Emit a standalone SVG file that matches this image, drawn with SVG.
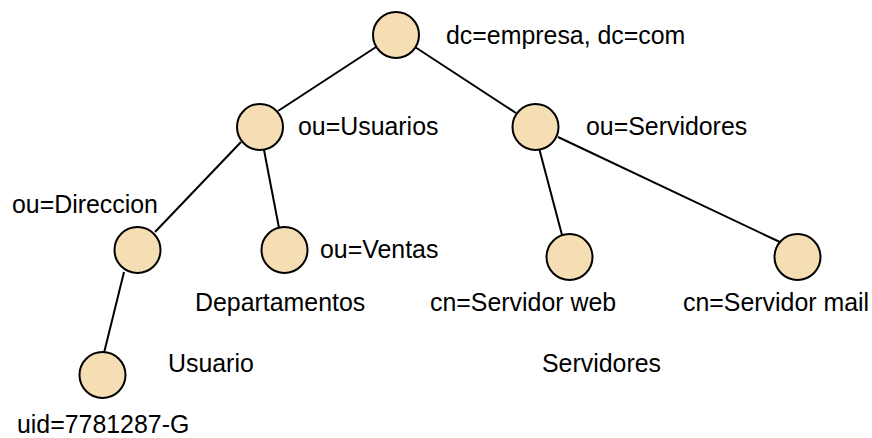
<svg xmlns="http://www.w3.org/2000/svg" width="872" height="438" viewBox="0 0 872 438">
  <style>
    .node { fill: #f5deb3; stroke: #000; stroke-width: 2; }
    .edge { stroke: #000; stroke-width: 2; fill: none; }
    .lbl { font-family: "Liberation Sans", Arial, sans-serif; font-size: 24.9px; fill: #000; }
  </style>
  <rect width="872" height="438" fill="#fff"/>
  <!-- connectors of the directory tree -->
  <g id="edges">
    <line class="edge" x1="376" y1="47" x2="278" y2="111"/>
    <line class="edge" x1="415" y1="47" x2="516" y2="113"/>
    <line class="edge" x1="241" y1="142" x2="155" y2="232"/>
    <line class="edge" x1="264" y1="150" x2="279" y2="228"/>
    <line class="edge" x1="124" y1="272" x2="104" y2="353"/>
    <line class="edge" x1="539" y1="148" x2="562" y2="235"/>
    <line class="edge" x1="558" y1="137" x2="782" y2="243"/>
  </g>
  <g id="root">
    <circle class="node" cx="396" cy="35" r="23"/>
    <text class="lbl" x="446" y="44">dc=empresa, dc=com</text>
  </g>
  <g id="usuarios">
    <circle class="node" cx="260" cy="127" r="23"/>
    <text class="lbl" x="298" y="135">ou=Usuarios</text>
  </g>
  <g id="servidores">
    <circle class="node" cx="535.5" cy="127" r="23"/>
    <text class="lbl" x="586" y="135">ou=Servidores</text>
  </g>
  <g id="direccion">
    <circle class="node" cx="137.5" cy="250" r="23"/>
    <text class="lbl" x="12" y="213">ou=Direccion</text>
  </g>
  <g id="ventas">
    <circle class="node" cx="284.5" cy="250" r="23"/>
    <text class="lbl" x="320" y="258">ou=Ventas</text>
  </g>
  <g id="servidor-web">
    <circle class="node" cx="569.5" cy="257" r="23"/>
    <text class="lbl" x="430" y="311">cn=Servidor web</text>
  </g>
  <g id="servidor-mail">
    <circle class="node" cx="797.5" cy="257" r="23"/>
    <text class="lbl" x="683" y="311">cn=Servidor mail</text>
  </g>
  <g id="usuario">
    <circle class="node" cx="102.5" cy="375" r="23"/>
    <text class="lbl" x="17" y="433">uid=7781287-G</text>
  </g>
  <g id="captions">
    <text class="lbl" x="195" y="311">Departamentos</text>
    <text class="lbl" x="168" y="372">Usuario</text>
    <text class="lbl" x="542" y="372">Servidores</text>
  </g>
</svg>
